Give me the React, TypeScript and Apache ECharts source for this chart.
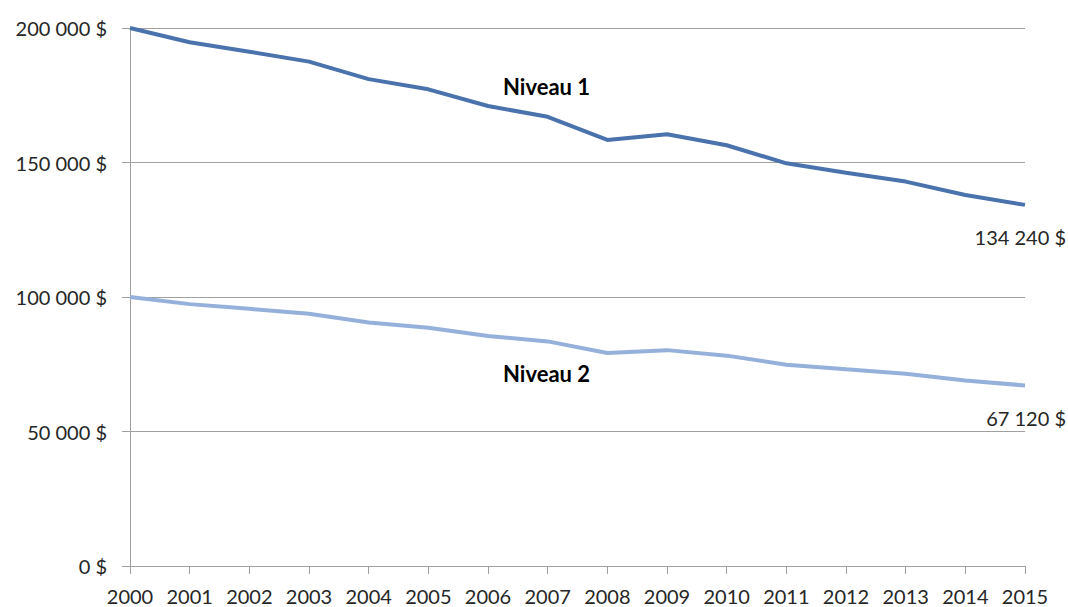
import React, { useEffect, useRef } from "react";
import * as echarts from "echarts";

const years = ["2000","2001","2002","2003","2004","2005","2006","2007","2008","2009","2010","2011","2012","2013","2014","2015"];
const niveau1 = [200000, 194700, 191200, 187500, 181000, 177200, 171000, 167000, 158400, 160500, 156400, 149700, 146200, 142900, 137900, 134240];
const niveau2 = [100000, 97350, 95600, 93750, 90500, 88600, 85500, 83500, 79200, 80250, 78200, 74850, 73100, 71450, 68950, 67120];
const seriesNames = ["Niveau 1", "Niveau 2"];

const FONT = "Lato, 'Open Sans', sans-serif";

function fmt(v: number): string {
  const s = Math.round(v).toString().replace(/\B(?=(\d{3})+(?!\d))/g, " ");
  return s + " $";
}

function endLabel(offsetY: number) {
  return {
    show: true,
    formatter: (p: any) => fmt(p.value),
    align: "right",
    verticalAlign: "top",
    distance: 0,
    offset: [41, offsetY],
    fontFamily: FONT,
    fontSize: 20,
    color: "#262626",
  };
}

export default function App() {
  const ref = useRef<HTMLDivElement>(null);
  useEffect(() => {
    if (!ref.current) return;
    const chart = echarts.init(ref.current, undefined, { renderer: "svg" });
    chart.setOption({
      animation: false,
      backgroundColor: "#ffffff",
      grid: { left: 130, right: 43, top: 28, bottom: 41, containLabel: false },
      xAxis: {
        type: "category",
        data: years,
        boundaryGap: false,
        axisLine: { show: true, lineStyle: { color: "#a0a0a0", width: 1 } },
        axisTick: { show: true, alignWithLabel: true, length: 8, lineStyle: { color: "#a0a0a0" } },
        axisLabel: { color: "#262626", fontFamily: FONT, fontSize: 20, margin: 20, interval: 0 },
        splitLine: { show: false },
      },
      yAxis: {
        type: "value",
        min: 0,
        max: 200000,
        interval: 50000,
        axisLine: { show: true, lineStyle: { color: "#a0a0a0", width: 1 } },
        axisTick: { show: true, length: 8, lineStyle: { color: "#a0a0a0" } },
        axisLabel: {
          color: "#262626",
          fontFamily: FONT,
          fontSize: 20,
          margin: 23,
          formatter: (v: number) => fmt(v),
        },
        splitLine: { show: true, lineStyle: { color: "#a0a0a0", width: 1 } },
      },
      series: [
        {
          name: seriesNames[0],
          type: "line",
          data: niveau1,
          symbol: "none",
          lineStyle: { color: "#4a73ad", width: 4 },
          itemStyle: { color: "#4a73ad" },
          endLabel: endLabel(22),
        },
        {
          name: seriesNames[1],
          type: "line",
          data: niveau2,
          symbol: "none",
          lineStyle: { color: "#95b0da", width: 4 },
          itemStyle: { color: "#95b0da" },
          endLabel: endLabel(23),
        },
      ],
      graphic: [
        {
          type: "text",
          left: 503,
          top: 75,
          style: { text: seriesNames[0], fontFamily: FONT, fontWeight: "bold", fontSize: 22, fill: "#000" },
        },
        {
          type: "text",
          left: 503,
          top: 362,
          style: { text: seriesNames[1], fontFamily: FONT, fontWeight: "bold", fontSize: 22, fill: "#000" },
        },
      ],
    });
    return () => chart.dispose();
  }, []);
  return (
    <div
      ref={ref}
      style={{ position: "fixed", left: 0, top: 0, width: 1068, height: 607, background: "#fff" }}
    />
  );
}
